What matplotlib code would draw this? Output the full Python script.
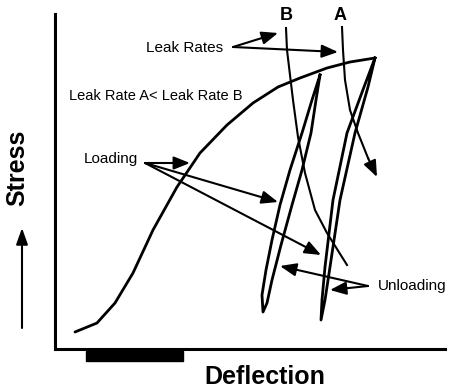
import numpy as np
import matplotlib
matplotlib.use('Agg')
import matplotlib.pyplot as plt
from matplotlib.patches import Rectangle

plt.rcParams['font.family'] = ['Liberation Sans', 'DejaVu Sans']

# Curva de carga inicial (deflexion, esfuerzo)
cargaX = [20, 42, 60, 78, 98, 122, 145, 172, 198, 223, 245, 272, 295, 320]
cargaY = [17, 26, 46, 76, 119, 162, 196, 224, 246, 262, 271, 281, 287, 291]

# Ciclo de descarga/recarga A (desde el pico)
cicloAX = [320, 309, 292, 278, 270, 267, 266, 270, 275, 285, 300, 313, 320]
cicloAY = [291, 262, 216, 149, 82, 49, 29, 49, 82, 149, 216, 262, 291]

# Ciclo de descarga/recarga B
cicloBX = [265, 257, 247, 235, 225, 217, 211, 207, 208, 212, 217, 226, 237, 247, 256, 261, 265]
cicloBY = [274, 249, 216, 179, 144, 109, 79, 54, 37, 46, 69, 104, 144, 179, 216, 249, 274]

# Curvas de fuga
fugaBX = [231, 232, 235, 238, 243, 250, 260, 272, 292]
fugaBY = [321, 299, 274, 249, 212, 176, 139, 116, 84]
fugaAX = [287, 288, 290, 295, 303, 313, 322]
fugaAY = [322, 299, 269, 239, 216, 191, 172]

# Flechas: origen -> destinos
flechasFuga = ((178, 302), [(223, 316), (283, 297)])
flechasCarga = ((90, 186), [(135, 186), (223, 147), (266, 94)])
flechasDescarga = ((313, 63), [(225, 83), (275, 59)])

barra = (31, -12, 97, 10)  # x, y, ancho, alto

fig = plt.figure(figsize=(4.49, 3.92), dpi=100)
ax = fig.add_axes([55 / 449, 43 / 392, 390 / 449, 335 / 392])
ax.set_xlim(0, 390)
ax.set_ylim(0, 335)
ax.set_xticks([])
ax.set_yticks([])
for lado in ['top', 'right']:
    ax.spines[lado].set_visible(False)
for lado in ['left', 'bottom']:
    ax.spines[lado].set_linewidth(2.2)

ax.plot(cargaX, cargaY, color='black', lw=2.0, solid_capstyle='round')
ax.plot(cicloAX, cicloAY, color='black', lw=2.0, solid_joinstyle='round')
ax.plot(cicloBX, cicloBY, color='black', lw=2.0, solid_joinstyle='round')
ax.plot(fugaBX, fugaBY, color='black', lw=1.5)
ax.plot(fugaAX[:-1], fugaAY[:-1], color='black', lw=1.5)

estilo = dict(arrowstyle='-|>,head_length=0.7,head_width=0.28', mutation_scale=14,
              color='black', lw=1.5, shrinkA=0, shrinkB=0)
ax.annotate('', xy=(fugaAX[-1], fugaAY[-1]), xytext=(fugaAX[-2], fugaAY[-2]), arrowprops=estilo)

for origen, destinos in [flechasFuga, flechasCarga, flechasDescarga]:
    for d in destinos:
        ax.annotate('', xy=d, xytext=origen, arrowprops=estilo, annotation_clip=False)

ax.text(130, 301, 'Leak Rates', ha='center', va='center', fontsize=11)
ax.text(14, 253, 'Leak Rate A< Leak Rate B', ha='left', va='center', fontsize=10.5)
ax.text(56, 190, 'Loading', ha='center', va='center', fontsize=11)
ax.text(323, 63, 'Unloading', ha='left', va='center', fontsize=11, clip_on=False)
ax.text(231, 334, 'B', ha='center', va='center', fontsize=13, fontweight='bold', clip_on=False)
ax.text(285, 334, 'A', ha='center', va='center', fontsize=13, fontweight='bold', clip_on=False)

ax.text(-38, 181, 'Stress', rotation=90, ha='center', va='center', fontsize=18, fontweight='bold')
ax.annotate('', xy=(-33, 121), xytext=(-33, 21), annotation_clip=False,
            arrowprops=dict(arrowstyle='-|>,head_length=0.7,head_width=0.25', mutation_scale=14,
                            color='black', lw=1.5, shrinkA=0, shrinkB=0))
ax.text(210, -28, 'Deflection', ha='center', va='center', fontsize=18, fontweight='bold')
ax.add_patch(Rectangle(barra[:2], barra[2], barra[3], color='black', clip_on=False))

fig.savefig('out.png', dpi=100)
